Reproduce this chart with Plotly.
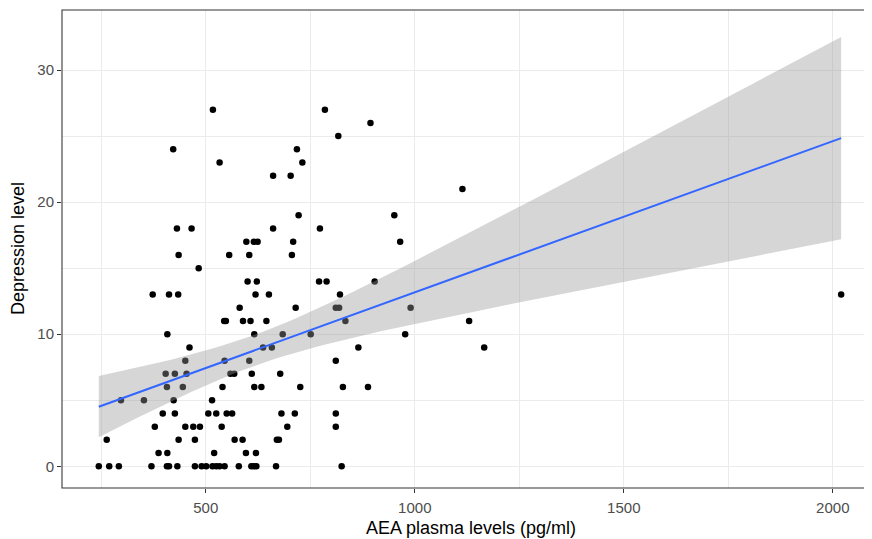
import numpy as np
import plotly.graph_objects as go

# ---- data ----
aea = [
    517, 785,
    894,
    817,
    422, 718,
    533, 731,
    661, 703,
    1114,
    722, 951,
    431, 466, 661, 773,
    597, 615, 624, 709, 965,
    435, 556, 604, 706,
    483,
    600, 622, 771, 789, 904,
    373, 412, 434, 619, 651, 821, 2020,
    581, 715, 811, 819, 990,
    544, 548, 589, 607, 645, 834, 1130,
    408, 616, 684, 751, 977,
    461, 637, 658, 865, 1166,
    451, 545, 604, 811,
    404, 426, 454, 559, 568, 610, 678,
    407, 445, 540, 616, 633, 726, 828, 888,
    297, 352, 423, 515,
    397, 426, 506, 525, 550, 563, 681, 713, 811,
    378, 451, 470, 486, 538, 695, 811,
    263, 435, 474, 569, 588, 670, 675,
    387, 408, 520, 596, 620,
    244, 269, 292, 370, 407, 412, 432, 474, 490, 501, 516, 525, 533, 545, 579, 609, 615, 621, 668, 825,
]
depression = (
    [27] * 2 + [26] * 1 + [25] * 1 + [24] * 2 + [23] * 2 + [22] * 2 + [21] * 1 +
    [19] * 2 + [18] * 4 + [17] * 5 + [16] * 4 + [15] * 1 + [14] * 5 + [13] * 7 +
    [12] * 5 + [11] * 7 + [10] * 5 + [9] * 5 + [8] * 4 + [7] * 7 + [6] * 8 +
    [5] * 4 + [4] * 9 + [3] * 7 + [2] * 7 + [1] * 5 + [0] * 20
)
x_ticks = [500, 1000, 1500, 2000]
x_minor = [250, 750, 1250, 1750]
y_ticks = [0, 10, 20, 30]
y_minor = [5, 15, 25]
T975 = 1.977  # t quantile (0.975, df = n - 2)

# ---- linear fit with 95% confidence band (like geom_smooth(method = "lm")) ----
x = np.asarray(aea, dtype=float)
y = np.asarray(depression, dtype=float)
n = len(x)
slope, intercept = np.polyfit(x, y, 1)
resid = y - (intercept + slope * x)
s = np.sqrt(np.sum(resid ** 2) / (n - 2))
xbar = x.mean()
sxx = np.sum((x - xbar) ** 2)
xs = np.linspace(x.min(), x.max(), 80)
fit = intercept + slope * xs
se = s * np.sqrt(1.0 / n + (xs - xbar) ** 2 / sxx)
upper = fit + T975 * se
lower = fit - T975 * se

fig = go.Figure()
fig.add_trace(go.Scatter(
    x=aea, y=depression, mode="markers",
    marker=dict(color="black", size=6.5, line=dict(width=0)),
    hoverinfo="skip", showlegend=False,
))
fig.add_trace(go.Scatter(
    x=np.concatenate([xs, xs[::-1]]), y=np.concatenate([upper, lower[::-1]]),
    mode="lines", fill="toself", fillcolor="rgba(153,153,153,0.4)",
    line=dict(width=0), hoverinfo="skip", showlegend=False,
))
fig.add_trace(go.Scatter(
    x=xs, y=fit, mode="lines", line=dict(color="#3366FF", width=2),
    hoverinfo="skip", showlegend=False,
))

FONT = "Liberation Sans, Arial, sans-serif"
tickfont = dict(family=FONT, size=15, color="#4D4D4D")
grid = "#EBEBEB"
# The page body has an 8px default margin, so the figure is sized/offset to fill
# the 872x539 window exactly.
fig.update_layout(
    width=864, height=531,
    margin=dict(l=54, r=0, t=2, b=51),
    paper_bgcolor="white", plot_bgcolor="white",
    showlegend=False,
    xaxis=dict(
        range=[156, 2093.8], tickmode="array", tickvals=x_ticks,
        ticktext=[str(v) for v in x_ticks],
        showgrid=True, gridcolor=grid, gridwidth=1.07, zeroline=False,
        ticks="outside", ticklen=4, tickwidth=1.07, tickcolor="#333333",
        tickfont=tickfont, showline=False, ticklabelstandoff=2,
        minor=dict(tickmode="array", tickvals=x_minor, showgrid=True,
                   gridcolor=grid, gridwidth=0.55, ticks=""),
    ),
    yaxis=dict(
        range=[-1.645, 34.55], tickmode="array", tickvals=y_ticks,
        ticktext=[str(v) for v in y_ticks],
        showgrid=True, gridcolor=grid, gridwidth=1.07, zeroline=False,
        ticks="outside", ticklen=4, tickwidth=1.07, tickcolor="#333333",
        tickfont=tickfont, showline=False,
        minor=dict(tickmode="array", tickvals=y_minor, showgrid=True,
                   gridcolor=grid, gridwidth=0.55, ticks=""),
    ),
    shapes=[dict(type="rect", xref="paper", yref="paper", x0=0, x1=1.05, y0=0, y1=1,
                 line=dict(color="#333333", width=1.07), layer="above")],
    annotations=[
        dict(text="AEA plasma levels (pg/ml)", xref="paper", yref="paper",
             x=(470.5 - 62) / 810, y=0, yshift=-40, xanchor="center", yanchor="middle",
             showarrow=False, font=dict(family=FONT, size=18, color="black")),
        dict(text="Depression level", xref="paper", yref="paper",
             x=0, xshift=-44, y=0.5, xanchor="center", yanchor="middle",
             textangle=-90, showarrow=False, font=dict(family=FONT, size=18, color="black")),
    ],
)

fig.write_html("out.html")
